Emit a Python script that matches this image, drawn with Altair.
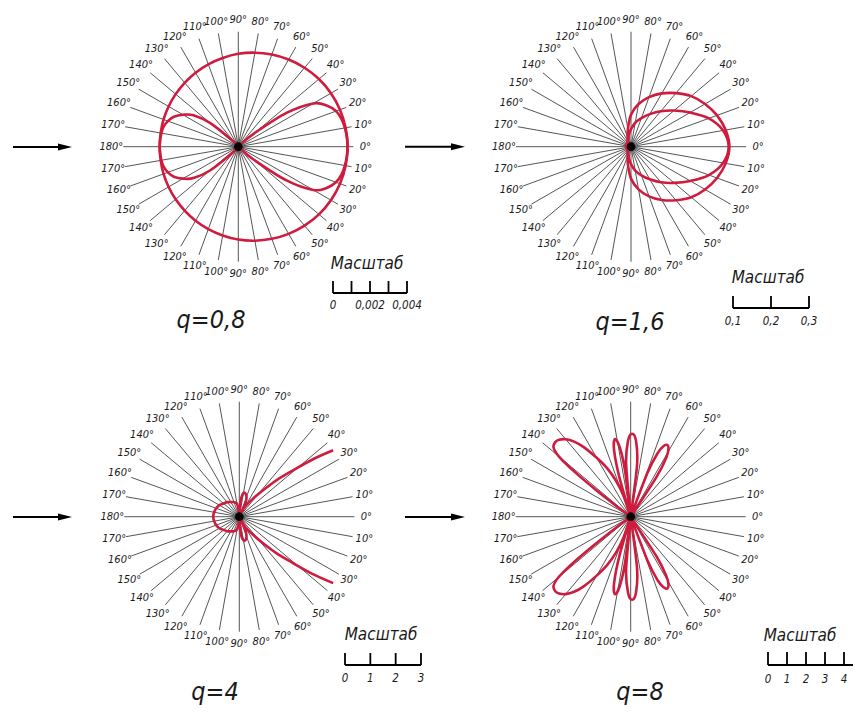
import altair as alt
import pandas as pd

# ---------------- data ----------------
ANG10 = list(range(0, 181, 10))

# q = 0.8 : perpendicular (outer) and parallel (figure-eight) components
P1_PERP_R = [0.00591, 0.00589, 0.00585, 0.00578, 0.00569, 0.00557, 0.00544, 0.00530, 0.00516, 0.00502,
             0.00487, 0.00474, 0.00462, 0.00451, 0.00442, 0.00435, 0.00430, 0.00426, 0.00425]
P1_PAR_ANG = [0, 5, 10, 15, 20, 25, 30, 35, 40, 45, 50, 90, 130, 135, 140, 145, 150, 155, 160, 165, 170, 175, 180]
P1_PAR_R = [0.00591, 0.00589, 0.00585, 0.00578, 0.00562, 0.00527, 0.00468, 0.00318, 0.00110, 0.00016, 0.00005,
            0.0, 0.00011, 0.00060, 0.00200, 0.00296, 0.00345, 0.00384, 0.00405, 0.00418, 0.00422, 0.00424, 0.00425]

# q = 1.6
P2_PERP_R = [0.259, 0.253, 0.241, 0.225, 0.207, 0.184, 0.162, 0.139, 0.114, 0.084,
             0.047, 0.026, 0.018, 0.014, 0.013, 0.013, 0.013, 0.013, 0.013]
P2_PAR_R = [0.257, 0.246, 0.218, 0.180, 0.148, 0.122, 0.099, 0.080, 0.064, 0.046,
            0.032, 0.021, 0.016, 0.013, 0.012, 0.012, 0.012, 0.012, 0.012]

# q = 4 (forward lobe runs off the drawing beyond ~35 deg)
P3_ANG = [35.3, 37.9, 40.8, 44.5, 48, 52.6, 60, 63, 66, 70, 75, 80, 84, 87, 90, 95, 100, 110, 120, 130,
          140, 150, 160, 170, 180]
P3_R = [4.54, 3.71, 2.80, 2.05, 1.42, 0.91, 0.47, 0.20, 0.63, 0.83, 0.95, 0.95, 0.75, 0.32, 0.16, 0.24,
        0.51, 0.61, 0.67, 0.75, 0.81, 0.91, 0.97, 1.01, 1.03]

# q = 8
P4_ANG = [55, 57, 59, 61, 63, 65, 67, 69, 71,
          81, 83, 86, 89, 92, 95, 96,
          97, 99, 101.5, 104, 106, 107.5,
          109, 112, 116, 120, 124, 127, 130, 133, 135.5, 138, 139.5, 140.5, 141.5, 142.3, 143, 144]
P4_R = [0, 2.5, 3.65, 4.1, 4.24, 4.1, 3.65, 2.5, 0,
        0, 2.75, 4.0, 4.37, 4.0, 2.75, 0,
        2.45, 3.72, 4.16, 3.62, 2.2, 0,
        1.16, 2.0, 2.84, 3.58, 4.42, 4.95, 5.32, 5.53, 5.58, 5.47, 5.16, 4.63, 3.58, 2.37, 1.16, 0]

SPOKE_ANGLES = list(range(0, 360, 10))
Q_LABELS = ["q=0,8", "q=1,6", "q=4", "q=8"]
SCALE_TITLE = "Масштаб"
SCALE_TICKS = [[0, 0.001, 0.002, 0.003, 0.004], [0.1, 0.2, 0.3], [0, 1, 2, 3], [0, 1, 2, 3, 4, 5]]
SCALE_LABEL_VALUES = [[0, 0.002, 0.004], [0.1, 0.2, 0.3], [0, 1, 2, 3], [0, 1, 2, 3, 4, 5]]
SCALE_LABEL_TEXT = [["0", "0,002", "0,004"], ["0,1", "0,2", "0,3"], ["0", "1", "2", "3"],
                    ["0", "1", "2", "3", "4", "5"]]

CURVES = [
    [("perp", ANG10, P1_PERP_R), ("par", P1_PAR_ANG, P1_PAR_R)],
    [("perp", ANG10, P2_PERP_R), ("par", ANG10, P2_PAR_R)],
    [("main", P3_ANG, P3_R)],
    [("main", P4_ANG, P4_R)],
]
CLOSED = [True, True, False, True]

# ---------------- layout (pixels of the page) ----------------
LAYOUT = [
    dict(cx=238.3, cy=146.7, k=18500.0, X0=8, Y0=8, W=392, H=350, qx=211, qy=328, mx=367, my=264,
         bx=333, by=293, bt=281, ly=306, ax0=13, ax1=72, ay=147, clip=False),
    dict(cx=631.0, cy=146.7, k=380.0, X0=400, Y0=8, W=453, H=350, qx=630, qy=330, mx=768, my=278,
         bx=733, by=308, bt=296, ly=322, ax0=405, ax1=465, ay=146.7, clip=False),
    dict(cx=239.3, cy=516.7, k=25.33, X0=8, Y0=358, W=392, H=347, qx=215, qy=700, mx=381, my=635,
         bx=345, by=665, bt=653, ly=679, ax0=13, ax1=72, ay=517, clip=False),
    dict(cx=630.7, cy=516.7, k=19.0, X0=400, Y0=358, W=453, H=347, qx=640, qy=700, mx=800, my=636,
         bx=768, by=665, bt=652, ly=680, ax0=405, ax1=465, ay=517, clip=True),
]
SPOKE_PX = 115
LABEL_PX = 127

RED = "#cf1b3d"
INK = "#1a1a1a"
FONT_N = "DejaVu Sans Condensed, DejaVu Sans, sans-serif"
FONT_W = "DejaVu Sans Condensed, DejaVu Sans, sans-serif"
ARROW = "M-1,-0.5L1,0L-1,0.5Z"


def curve_table(curves):
    rows = []
    for name, angs, rs in curves:
        pts = list(zip(angs, rs))
        mirror = [(360 - a, r) for a, r in reversed(pts) if 0 < a < 180]
        for idx, (a, r) in enumerate(pts + mirror):
            rows.append({"curve": name, "idx": idx, "ang": a, "r": r})
    return pd.DataFrame(rows)


def panel(i):
    L = LAYOUT[i]
    cx, cy, k = L["cx"], L["cy"], L["k"]
    xs = alt.Scale(domain=[(L["X0"] - cx) / k, (L["X0"] + L["W"] - cx) / k], nice=False, zero=False)
    ys = alt.Scale(domain=[(cy - (L["Y0"] + L["H"])) / k, (cy - L["Y0"]) / k], nice=False, zero=False)

    def X(f):
        return alt.X(f, type="quantitative", scale=xs, axis=None)

    def Y(f):
        return alt.Y(f, type="quantitative", scale=ys, axis=None)

    def ux(px):
        return (px - cx) / k

    def uy(py):
        return (cy - py) / k

    rs = SPOKE_PX / k
    rl = LABEL_PX / k
    spokes = alt.Chart(pd.DataFrame({"ang": SPOKE_ANGLES})).transform_calculate(
        x0="0", y0="0",
        x1=f"{rs}*cos(datum.ang*PI/180)", y1=f"{rs}*sin(datum.ang*PI/180)",
    ).mark_rule(color="#2a2a2a", strokeWidth=0.8).encode(x=X("x0"), y=Y("y0"), x2="x1:Q", y2="y1:Q")

    labels = alt.Chart(pd.DataFrame({"ang": SPOKE_ANGLES})).transform_calculate(
        lx=f"{rl}*cos(datum.ang*PI/180)", ly=f"{rl}*sin(datum.ang*PI/180)",
        lab="(datum.ang <= 180 ? datum.ang : 360 - datum.ang) + '°'",
    ).mark_text(font=FONT_N, fontSize=11, fontStyle="italic", color=INK, align="center",
                baseline="middle").encode(x=X("lx"), y=Y("ly"), text="lab:N")

    curves = alt.Chart(curve_table(CURVES[i])).transform_calculate(
        x="datum.r*cos(datum.ang*PI/180)", y="datum.r*sin(datum.ang*PI/180)"
    ).mark_line(color=RED, strokeWidth=2.6,
                interpolate="cardinal-closed" if CLOSED[i] else "cardinal").encode(
        x=X("x"), y=Y("y"), detail="curve:N", order="idx:Q")

    dot = alt.Chart(pd.DataFrame({"x": [0.0], "y": [0.0]})).mark_point(
        filled=True, color="#000000", size=75, opacity=0.95).encode(x=X("x"), y=Y("y"))

    arrow_df = pd.DataFrame({"xa": [ux(L["ax0"])], "xb": [ux(L["ax1"] - 8)], "xh": [ux(L["ax1"] - 7)],
                             "y": [uy(L["ay"])]})
    shaft = alt.Chart(arrow_df).mark_rule(color="#000000", strokeWidth=2).encode(
        x=X("xa"), x2="xb:Q", y=Y("y"))
    head = alt.Chart(arrow_df).mark_point(shape=ARROW, filled=True, color="#000000", size=196,
                                          opacity=1).encode(x=X("xh"), y=Y("y"))

    v0 = SCALE_TICKS[i][0]
    off = ux(L["bx"])
    tick_df = pd.DataFrame({"v": SCALE_TICKS[i]})
    tick_df["x"] = off + tick_df["v"] - v0
    tick_df["yb"] = uy(L["by"])
    tick_df["yt"] = uy(L["bt"])
    bar_df = pd.DataFrame({"xa": [off], "xb": [off + SCALE_TICKS[i][-1] - v0], "y": [uy(L["by"])]})
    clip = L["clip"]
    bar = alt.Chart(bar_df).mark_rule(color="#000000", strokeWidth=1.8, clip=clip).encode(
        x=X("xa"), x2="xb:Q", y=Y("y"))
    ticks = alt.Chart(tick_df).mark_rule(color="#000000", strokeWidth=1.8, clip=clip).encode(
        x=X("x"), y=Y("yb"), y2="yt:Q")
    lab_df = pd.DataFrame({"v": SCALE_LABEL_VALUES[i], "t": SCALE_LABEL_TEXT[i]})
    lab_df["x"] = off + lab_df["v"] - v0
    lab_df["y"] = uy(L["ly"])
    scale_labels = alt.Chart(lab_df).mark_text(font=FONT_N, fontSize=11.5, fontStyle="italic", color=INK,
                                                align="center", baseline="middle", clip=clip).encode(
        x=X("x"), y=Y("y"), text="t:N")

    title_df = pd.DataFrame({"x": [ux(L["mx"])], "y": [uy(L["my"])], "t": [SCALE_TITLE]})
    scale_title = alt.Chart(title_df).mark_text(font=FONT_W, fontSize=17, fontStyle="italic", color=INK,
                                                 align="center", baseline="middle").encode(
        x=X("x"), y=Y("y"), text="t:N")

    q_df = pd.DataFrame({"x": [ux(L["qx"])], "y": [uy(L["qy"])], "t": [Q_LABELS[i]]})
    q_text = alt.Chart(q_df).mark_text(font=FONT_W, fontSize=25, fontStyle="italic", color=INK,
                                       align="center", baseline="alphabetic").encode(
        x=X("x"), y=Y("y"), text="t:N")

    return alt.layer(spokes, labels, curves, dot, shaft, head, bar, ticks, scale_labels,
                     scale_title, q_text).properties(width=L["W"], height=L["H"])


chart = alt.concat(panel(0), panel(1), panel(2), panel(3), columns=2, spacing=0, bounds="flush").properties(
    padding=0, background="#ffffff"
).configure_view(stroke=None)

chart.save("out.html", embed_options={"renderer": "svg", "actions": False})
